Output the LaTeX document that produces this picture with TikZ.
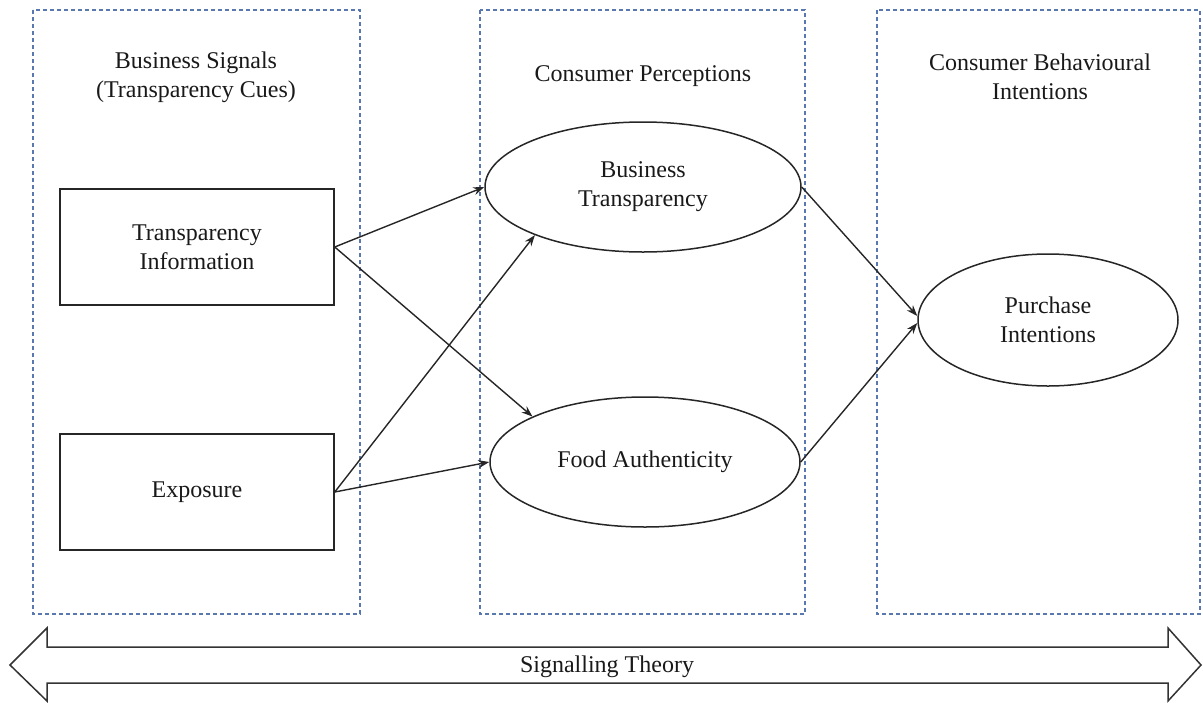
\documentclass[tikz,border=0pt]{standalone}
\usepackage{fontspec}
\setmainfont{Liberation Serif}
\usetikzlibrary{arrows.meta,shapes.geometric}
\definecolor{dashblue}{HTML}{5A78B0}
\begin{document}
\begin{tikzpicture}[x=1pt,y=-1pt,
  every node/.style={font=\fontsize{24}{29}\selectfont, align=center, text=black!90},
  panel/.style={draw=dashblue, line width=1.3pt, dash pattern=on 4pt off 3pt},
  cuebox/.style={draw=black!85, line width=1.5pt, rectangle, minimum width=274pt, minimum height=116pt, inner sep=0pt},
  percept/.style={draw=black!85, line width=1.5pt, ellipse, inner sep=0pt},
  link/.style={draw=black!85, line width=1.4pt, -{Stealth[length=11pt,width=8pt]}},
  label/.style={inner sep=0pt}
]
\useasboundingbox (0,0) rectangle (1203,702);
% panels
\draw[panel] (33,10) rectangle (360,614);
\draw[panel] (480,10) rectangle (805,614);
\draw[panel] (877,10) rectangle (1200,614);
% headers
\node[label] (h1) at (196,77) {Business Signals\\(Transparency Cues)};
\node[label] (h2) at (643,76) {Consumer Perceptions};
\node[label] (h3) at (1040,77) {Consumer Behavioural\\Intentions};
% nodes
\node[cuebox] (ti) at (197,247) {Transparency\\Information};
\node[cuebox] (ex) at (197,492) {Exposure};
\node[percept, minimum width=316pt, minimum height=130pt] (bt) at (643,187) {Business\\Transparency};
\node[percept, minimum width=310pt, minimum height=130pt] (fa) at (645,462) {Food Authenticity};
\node[percept, minimum width=260pt, minimum height=132pt] (pi) at (1048,320) {Purchase\\Intentions};
% connectors
\draw[link] (ti.east) -- (bt.west);
\draw[link] (ti.east) -- (fa.158);
\draw[link] (ex.east) -- (bt.204);
\draw[link] (ex.east) -- (fa.west);
\draw[link] (bt.east) -- ([yshift=4pt]pi.west);
\draw[link] (fa.east) -- ([yshift=-3pt]pi.west);
% signalling theory double arrow
\draw[draw=black!80, line width=1.5pt, fill=white, line join=miter]
  (10,665) -- (47,628) -- (47,647) -- (1168,647) -- (1168,628) -- (1201,665)
  -- (1168,701) -- (1168,683) -- (47,683) -- (47,701) -- cycle;
\node[label] (st) at (607,667) {Signalling Theory};
\end{tikzpicture}
\end{document}
